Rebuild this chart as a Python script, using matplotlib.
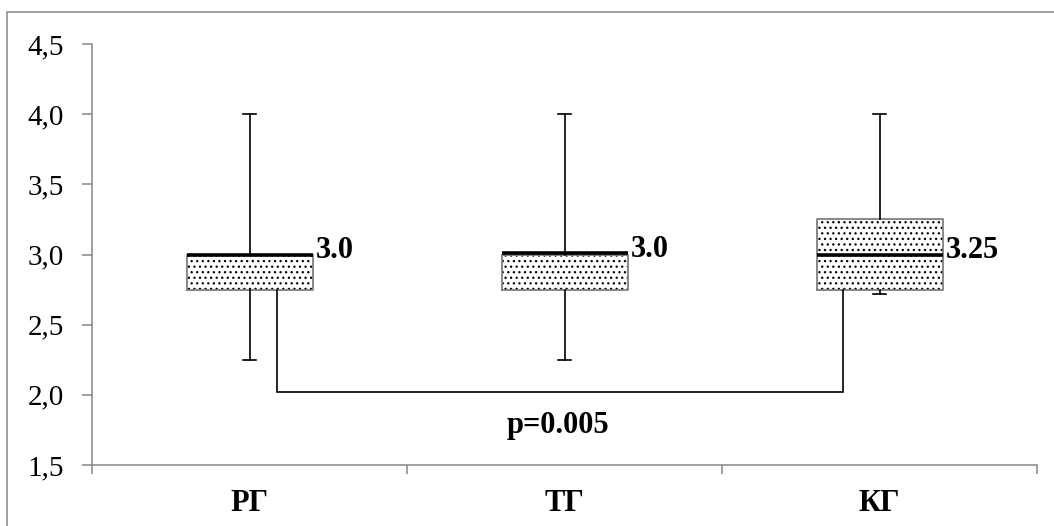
import matplotlib
matplotlib.use("Agg")
import matplotlib.pyplot as plt
from matplotlib.patches import Rectangle
from matplotlib.ticker import FuncFormatter, FixedLocator

# Group names and five-number summaries
groups = ["РГ", "ТГ", "КГ"]
medians = [3.0, 3.01, 3.0]
q1 = [2.75, 2.75, 2.75]
q3 = [3.0, 3.0, 3.25]
whisker_lo = [2.25, 2.25, 2.72]
whisker_hi = [4.0, 4.0, 4.0]
value_labels = ["3.0", "3.0", "3.25"]

# Significance bracket between РГ and КГ
bracket_groups = (0, 2)
bracket_y = 2.02
p_text = "p=0.005"

plt.rcParams["font.family"] = ["Liberation Serif", "DejaVu Serif"]
plt.rcParams["hatch.linewidth"] = 0.9

fig = plt.figure(figsize=(10.54, 5.26), dpi=100)
ax = fig.add_axes([92 / 1054, 1 - 465 / 526, (1037 - 92) / 1054, (465 - 44) / 526])

positions = [1, 2, 3]
stats = []
for i, g in enumerate(groups):
    stats.append(dict(label=g, med=medians[i], q1=q1[i], q3=q3[i],
                      whislo=whisker_lo[i], whishi=whisker_hi[i], fliers=[]))

box_w = 0.4
cap_w = 0.04

# dotted fill of the boxes
ax.bxp(stats, positions=positions, widths=box_w, patch_artist=True,
       showcaps=False, showfliers=False,
       boxprops=dict(facecolor="white", edgecolor="black", linewidth=0, hatch="..."),
       whiskerprops=dict(linewidth=0), medianprops=dict(linewidth=0))

# outlines, whiskers, caps and medians
ax.bxp(stats, positions=positions, widths=box_w, capwidths=cap_w,
       showfliers=False,
       boxprops=dict(color="#7f7f7f", linewidth=1.3),
       whiskerprops=dict(color="black", linewidth=1.2),
       capprops=dict(color="black", linewidth=1.2),
       medianprops=dict(color="black", linewidth=2.6, solid_capstyle="butt"))

# value annotations to the right of each box
for i, lab in enumerate(value_labels):
    ax.text(positions[i] + box_w / 2 + 0.01, medians[i] - 0.025, lab,
            fontsize=22, fontweight="bold", ha="left", va="baseline")

# bracket
a, b = bracket_groups
xa = positions[a] + 0.086
xb = positions[b] - 0.116
ax.plot([xa, xa, xb, xb], [q1[a], bracket_y, bracket_y, q1[b]],
        color="black", linewidth=1.2, solid_joinstyle="miter")
ax.text((positions[a] + positions[b]) / 2 - 0.022, 1.785, p_text,
        fontsize=22, fontweight="bold", ha="center", va="center")

ax.set_xlim(0.5, 3.5)
ax.set_ylim(1.5, 4.5)
ax.set_yticks([1.5, 2.0, 2.5, 3.0, 3.5, 4.0, 4.5])
ax.yaxis.set_major_formatter(FuncFormatter(lambda v, _: f"{v:.1f}".replace(".", ",")))
ax.xaxis.set_major_locator(FixedLocator([0.5, 1.5, 2.5, 3.5]))
ax.xaxis.set_minor_locator(FixedLocator(positions))
ax.set_xticklabels([], minor=False)
ax.set_xticklabels(groups, minor=True, fontsize=22, fontweight="bold")
ax.tick_params(axis="x", which="minor", length=0, pad=17)
ax.tick_params(axis="x", which="major", length=6.5, width=1.1, color="#868686", direction="out")
ax.tick_params(axis="y", length=7, width=1.1, color="#868686", labelsize=21, pad=13)

for s in ["top", "right"]:
    ax.spines[s].set_visible(False)
for s in ["left", "bottom"]:
    ax.spines[s].set_color("#868686")
    ax.spines[s].set_linewidth(1.1)

# outer chart frame
fig.patches.append(Rectangle((7 / 1054, -0.1), 1.2, 1.1 - 12 / 526,
                             transform=fig.transFigure, fill=False,
                             edgecolor="#868686", linewidth=1.1))

fig.savefig("out.png", dpi=100)
